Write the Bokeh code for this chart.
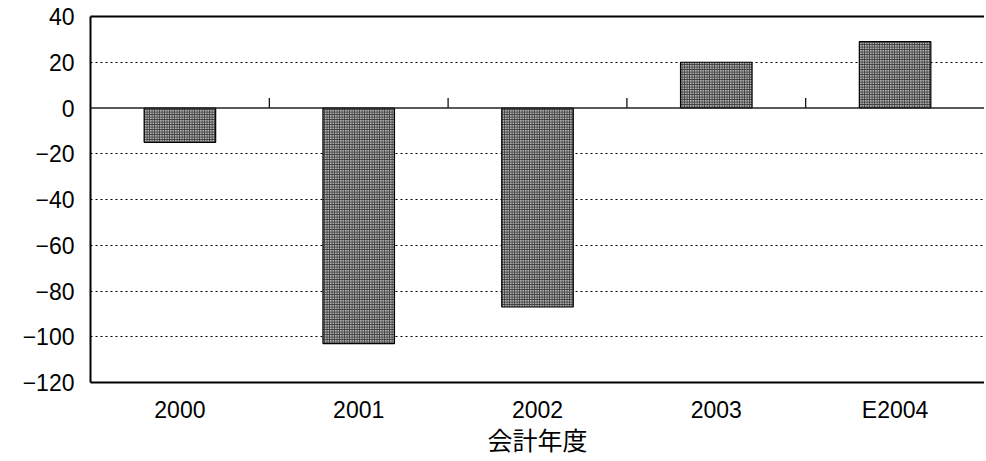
from bokeh.plotting import figure
from bokeh.models import FixedTicker, LinearAxis, Range1d, Span, ColumnDataSource
from bokeh.embed import file_html
from bokeh.resources import INLINE

categories = ["2000", "2001", "2002", "2003", "E2004"]
values = [-15, -103, -87, 20, 29]
y_ticks = [-120, -100, -80, -60, -40, -20, 0, 20, 40]
x_title = "会計年度"

n = len(categories)
x_centers = [i + 0.5 for i in range(n)]
boundaries = list(range(1, n))

p = figure(width=984, height=459, output_backend="svg", toolbar_location=None,
           x_range=Range1d(0, n), y_range=Range1d(y_ticks[0], y_ticks[-1]),
           min_border_left=90, min_border_right=0, min_border_top=16, min_border_bottom=77,
           outline_line_color=None, background_fill_color="white", border_fill_color="white")

src = ColumnDataSource(dict(x=x_centers, top=values))
p.vbar(x="x", top="top", bottom=0, width=0.4, source=src,
       fill_color="#b0b0b0", line_color="black", line_width=1.2,
       hatch_pattern="cross", hatch_scale=2.5, hatch_color="#3a3a3a", hatch_weight=1)

# zero line and its category-boundary ticks
p.add_layout(Span(location=0, dimension="width", line_color="#222222", line_width=1.5))
p.segment(x0=boundaries, x1=boundaries, y0=[0] * len(boundaries), y1=[4.4] * len(boundaries),
          line_color="black", line_width=1.2)

# grid
p.xgrid.visible = False
p.ygrid.ticker = FixedTicker(ticks=[t for t in y_ticks[1:-1] if t != 0])
p.ygrid.grid_line_color = "black"
p.ygrid.grid_line_dash = "2 3"
p.ygrid.grid_line_width = 1

font = "Liberation Sans"

# y axis
ya = p.yaxis[0]
ya.ticker = FixedTicker(ticks=y_ticks)
ya.major_label_overrides = {t: str(t).replace("-", "\u2212") for t in y_ticks}
ya.major_tick_out = 0
ya.major_tick_in = 0
ya.minor_tick_out = 0
ya.minor_tick_in = 0
ya.major_label_standoff = 16
ya.major_label_text_font = font
ya.major_label_text_font_size = "23px"
ya.major_label_text_color = "black"
ya.axis_line_width = 2
ya.axis_line_color = "black"

# x axis
xa = p.xaxis[0]
xa.ticker = FixedTicker(ticks=x_centers)
xa.major_label_overrides = {x: c for x, c in zip(x_centers, categories)}
xa.major_tick_out = 0
xa.major_tick_in = 0
xa.minor_tick_out = 0
xa.minor_tick_in = 0
xa.major_label_standoff = 14
xa.major_label_text_font = font
xa.major_label_text_font_size = "23px"
xa.major_label_text_color = "black"
xa.axis_line_width = 2
xa.axis_line_color = "black"
xa.axis_label = x_title
xa.axis_label_text_font = "Noto Sans CJK JP"
xa.axis_label_text_font_size = "25px"
xa.axis_label_text_font_style = "normal"
xa.axis_label_text_color = "black"
xa.axis_label_standoff = -5

# top border
top = LinearAxis(ticker=FixedTicker(ticks=[]), axis_line_width=2, axis_line_color="black",
                 major_label_text_font_size="0px", major_tick_out=0, minor_tick_out=0)
p.add_layout(top, "above")

open("out.html", "w").write(file_html(p, INLINE))
